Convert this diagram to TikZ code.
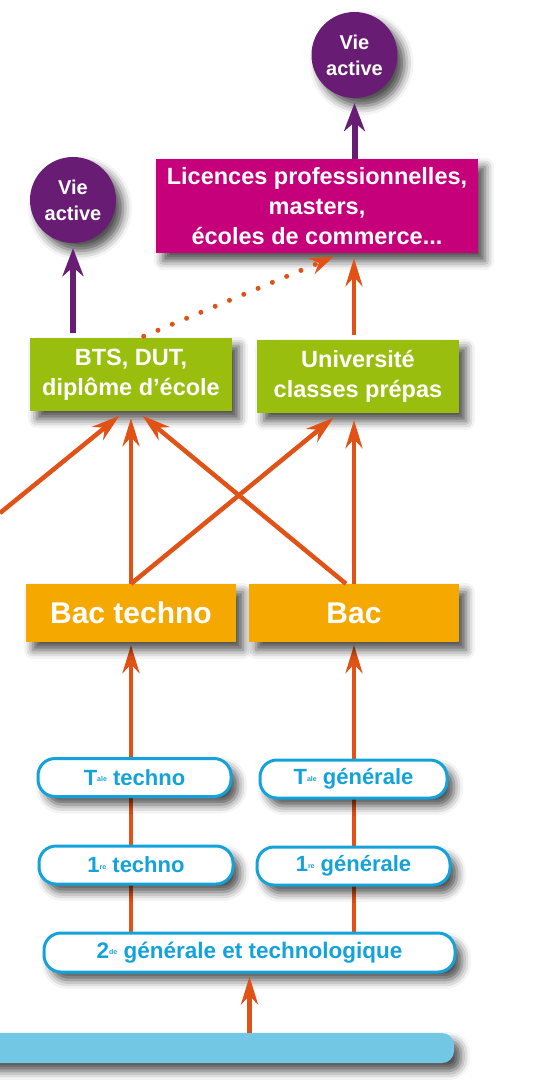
\documentclass[tikz,border=0pt]{standalone}
\usepackage{fontspec}
\setmainfont{Liberation Sans}
\usetikzlibrary{arrows.meta, shadows.blur, backgrounds}

\definecolor{violetvie}{RGB}{104,28,116}
\definecolor{rosemaster}{RGB}{197,0,122}
\definecolor{vertsup}{RGB}{153,190,14}
\definecolor{orangebac}{RGB}{245,168,0}
\definecolor{orangeflux}{RGB}{224,82,22}
\definecolor{bleulycee}{RGB}{20,162,218}
\definecolor{bleubarre}{RGB}{114,200,228}

\newcommand{\exposant}[1]{\raisebox{0.3ex}{\fontsize{7}{7}\selectfont #1}}

\begin{document}
\begin{tikzpicture}[x=1pt, y=-1pt,
    ombre/.style={blur shadow={shadow xshift=7pt, shadow yshift=-8pt, shadow blur radius=9pt, shadow opacity=70}},
    vie/.style={circle, fill=violetvie, minimum size=86pt, inner sep=0pt, align=center, text=white,
      font=\fontsize{20}{26}\selectfont\bfseries, ombre},
    etude/.style={rectangle, inner sep=0pt, align=center, text=white,
      font=\fontsize{23.5}{30}\selectfont\bfseries, ombre},
    bacbox/.style={rectangle, fill=orangebac, inner sep=0pt, text=white,
      font=\fontsize{30}{30}\selectfont\bfseries, minimum width=210pt, minimum height=58pt, ombre},
    lycee/.style={rectangle, rounded corners=17pt, draw=bleulycee, line width=3pt, fill=white,
      text=bleulycee, inner sep=0pt, font=\fontsize{22}{22}\selectfont\bfseries, minimum height=38pt, ombre},
    fleche/.style={draw=orangeflux, line width=4.5pt, -{Stealth[length=28pt, width=17pt, inset=9pt]}},
    sortie/.style={draw=violetvie, line width=6pt, -{Stealth[length=28pt, width=21pt, inset=9pt]}},
    pointille/.style={draw=orangeflux, line width=5pt, line cap=round, dash pattern=on 0pt off 15.5pt,
      -{Stealth[length=24pt, width=17pt, inset=8pt]}}]
  \useasboundingbox (0, 0) rectangle (537, 1083);

  % Vie active
  \node[vie] (viehaut) at (354.5, 55) {Vie\\active};
  \node[vie] (viebas) at (73, 200) {Vie\\active};

  % Etudes superieures
  \node[etude, fill=rosemaster, minimum width=322pt, minimum height=94pt] (licences) at (317, 206)
    {Licences professionnelles,\\masters,\\écoles de commerce...};
  \node[etude, fill=vertsup, minimum width=202pt, minimum height=73pt] (bts) at (131, 374.5)
    {BTS, DUT,\\diplôme d’école};
  \node[etude, fill=vertsup, minimum width=202pt, minimum height=73pt] (univ) at (358, 376.5)
    {Université\\classes prépas};

  % Bacs
  \node[bacbox] (bactechno) at (131, 613) {Bac techno};
  \node[bacbox] (bac) at (354, 613) {Bac};

  % Lycee
  \node[lycee, minimum width=193pt] (taletechno) at (134.5, 777.5) {T\exposant{ale} techno};
  \node[lycee, minimum width=187pt] (talegen) at (353.5, 779) {T\exposant{ale} générale};
  \node[lycee, minimum width=194pt] (premtechno) at (136, 865) {1\exposant{re} techno};
  \node[lycee, minimum width=193pt] (premgen) at (353.5, 866) {1\exposant{re} générale};
  \node[lycee, minimum width=411pt, minimum height=39pt, font=\fontsize{22.5}{22.5}\selectfont\bfseries]
    (seconde) at (249.5, 952.5) {2\exposant{de} générale et technologique};

  % Barre du bas
  \node[rectangle, fill=bleubarre, rounded corners=12pt, minimum width=484pt, minimum height=30pt,
    inner sep=0pt, ombre] (barre) at (212, 1048) {};

  \coordinate (gauche) at (0, 513);

  \begin{pgfonlayer}{background}
    % Parcours du lycee
    \draw[fleche, shorten >=3pt] (seconde.north -| bactechno.south) -- (bactechno.south);
    \draw[fleche, shorten >=3pt] (seconde.north -| bac.south) -- (bac.south);
  \end{pgfonlayer}
  \draw[fleche, shorten >=3pt] (barre.north -| seconde.south) -- (seconde.south);

  % Apres le bac
  \draw[fleche, shorten >=7pt] (bactechno.north) -- (bactechno.north |- bts.south);
  \draw[fleche, shorten >=7pt] (bactechno.north) -- ([xshift=-19pt]univ.south);
  \draw[fleche, shorten >=7pt] ([xshift=-8pt]bac.north) -- ([xshift=6pt]bts.south);
  \draw[fleche, shorten >=7pt] (bac.north) -- (bac.north |- univ.south);
  \draw[fleche, shorten >=7pt] (gauche) -- ([xshift=-6pt]bts.south);

  % Poursuite d'etudes
  \draw[fleche, shorten <=5pt, shorten >=5pt] (bac.north |- univ.north) -- (bac.north |- licences.south);
  \draw[pointille, shorten <=4pt, shorten >=9pt] ([xshift=9pt]bts.north) -- ([xshift=25pt]licences.south);

  % Vers la vie active
  \draw[sortie, shorten >=5pt] (licences.north -| viehaut.south) -- (viehaut.south);
  \draw[sortie, shorten <=5pt, shorten >=5pt] (bts.north -| viebas.south) -- (viebas.south);
\end{tikzpicture}
\end{document}
